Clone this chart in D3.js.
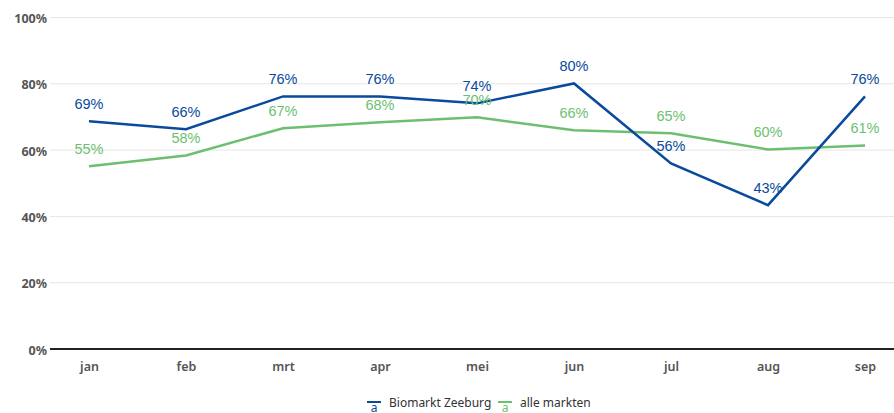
<!DOCTYPE html>
<html>
<head>
<meta charset="utf-8">
<script src="https://cdn.jsdelivr.net/npm/d3@7"></script>
<style>
  body { margin: 0; background: #fff; }
  .tick text { fill: #555; }
</style>
</head>
<body>
<div id="chart"></div>
<script>
var svgWidth = 894;
var svgHeight = 413;

// data
var months = ["jan", "feb", "mrt", "apr", "mei", "jun", "jul", "aug", "sep"];
var zeeburg = [68.7, 66.3, 76.2, 76.2, 74.1, 80.1, 56.0, 43.4, 76.2];
var alleMarkten = [55.1, 58.4, 66.6, 68.4, 69.9, 66.0, 65.1, 60.2, 61.4];
var yTicks = [0, 20, 40, 60, 80, 100];

var seriesNames = ["Biomarkt Zeeburg", "alle markten"];
var colors = ["#0a4a9c", "#6dbf70"];

var svg = d3.select("#chart")
  .append("svg")
  .attr("width", svgWidth)
  .attr("height", svgHeight);

var x = d3.scalePoint()
  .domain(months)
  .range([89, 865]);

var y = d3.scaleLinear()
  .domain([0, 100])
  .range([349, 17.5]);

// gridlines
svg.append("g")
  .selectAll("line")
  .data(yTicks.filter(d => d > 0))
  .enter()
  .append("line")
  .attr("x1", 50)
  .attr("x2", svgWidth)
  .attr("y1", d => y(d))
  .attr("y2", d => y(d))
  .attr("stroke", "#e6e6e6")
  .attr("stroke-width", 1);

// y axis labels
var yAxis = svg.append("g")
  .attr("transform", "translate(47,1)")
  .call(d3.axisLeft(y).tickValues(yTicks).tickFormat(d => d + "%").tickSize(0).tickPadding(0));
yAxis.select(".domain").remove();
yAxis.selectAll("text")
  .style("font-family", "'Noto Sans', sans-serif")
  .style("font-size", "12.5px")
  .style("font-weight", "bold")
  .style("fill", "#555");

// x axis labels
var xAxis = svg.append("g")
  .attr("transform", "translate(0,349)")
  .call(d3.axisBottom(x).tickSize(0).tickPadding(13));
xAxis.select(".domain").remove();
xAxis.selectAll("text")
  .style("font-family", "'Noto Sans', sans-serif")
  .style("font-size", "12.5px")
  .style("font-weight", "600")
  .style("fill", "#555");

// baseline
svg.append("line")
  .attr("x1", 50)
  .attr("x2", svgWidth)
  .attr("y1", y(0))
  .attr("y2", y(0))
  .attr("stroke", "#222")
  .attr("stroke-width", 2);

var line = d3.line()
  .x((d, i) => x(months[i]))
  .y(d => y(d));

var allSeries = [alleMarkten, zeeburg];
var allColors = [colors[1], colors[0]];

allSeries.forEach(function(values, k) {
  svg.append("path")
    .datum(values)
    .attr("d", line)
    .attr("fill", "none")
    .attr("stroke", allColors[k])
    .attr("stroke-width", 2.5);
});

// value labels
allSeries.forEach(function(values, k) {
  svg.append("g")
    .selectAll("text")
    .data(values)
    .enter()
    .append("text")
    .attr("x", (d, i) => x(months[i]))
    .attr("y", d => y(d) - 12)
    .attr("text-anchor", "middle")
    .style("font-family", "'Liberation Sans', Arial, sans-serif")
    .style("font-size", "14.5px")
    .style("fill", allColors[k])
    .text(d => Math.round(d) + "%");
});

// legend
var legend = svg.append("g")
  .attr("transform", "translate(367,0)");
var legendX = [0, 131];
seriesNames.forEach(function(name, k) {
  var g = legend.append("g").attr("transform", `translate(${legendX[k]},0)`);
  g.append("line")
    .attr("x1", 0).attr("x2", 14)
    .attr("y1", 402).attr("y2", 402)
    .attr("stroke", colors[k])
    .attr("stroke-width", 2);
  g.append("text")
    .attr("x", 7)
    .attr("y", 412)
    .attr("text-anchor", "middle")
    .style("font-family", "'Noto Sans', sans-serif")
    .style("font-size", "12px")
    .style("fill", colors[k])
    .text("a");
  g.append("text")
    .attr("x", 22)
    .attr("y", 407)
    .style("font-family", "'Noto Sans', sans-serif")
    .style("font-size", "12px")
    .style("fill", "#333")
    .text(name);
});
</script>
</body>
</html>
